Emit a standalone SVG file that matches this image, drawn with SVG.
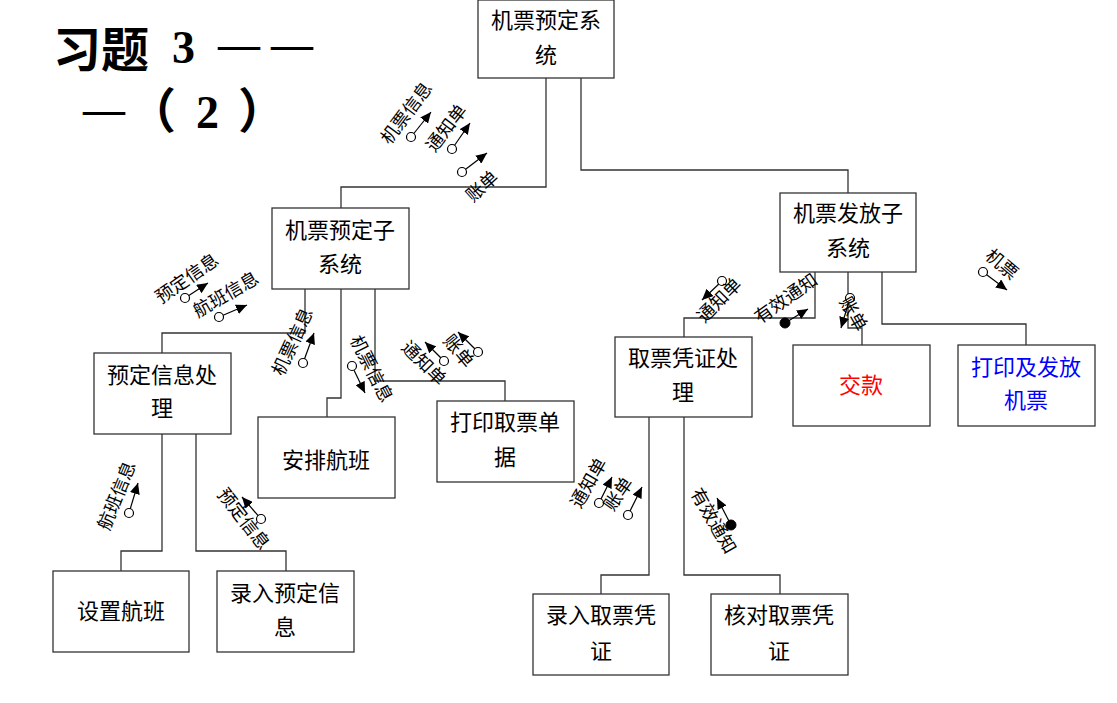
<svg xmlns="http://www.w3.org/2000/svg" width="1117" height="703" viewBox="0 0 1117 703">
<defs>
<marker id="ah" markerUnits="userSpaceOnUse" markerWidth="12" markerHeight="10" refX="11" refY="5" orient="auto">
<path d="M0,0 L11,5 L0,10 z" fill="#000"/>
</marker>
</defs>
<style>
.box{fill:#fff;stroke:#333;stroke-width:1.3}
.nt{font-family:"Noto Sans CJK SC","Noto Sans",sans-serif;font-size:22px;text-anchor:middle;fill:#000}
.conn{fill:none;stroke:#333;stroke-width:1.3}
.lb{font-family:"Noto Sans CJK SC","Noto Sans",sans-serif;font-size:18px;text-anchor:middle;dominant-baseline:central;fill:#000}
.fl{stroke:#000;stroke-width:1.2;marker-end:url(#ah)}
.oc{fill:#fff;stroke:#000;stroke-width:1.2}
.fc{fill:#000;stroke:#000}
.tt{font-family:"Noto Sans CJK SC",sans-serif;font-size:48px;font-weight:bold;fill:#000}
.td{font-family:"Liberation Serif",serif;font-size:46px;font-weight:bold;fill:#000}
.dash{font-family:"Liberation Serif",serif;font-size:42px;font-weight:bold;fill:#000}
</style>
<rect width="1117" height="703" fill="#fff"/>
<g id="title">
<text class="tt" x="53" y="67">习题</text>
<text class="td" x="172" y="63">3</text>
<text class="dash" x="218" y="58">—</text>
<text class="dash" x="271" y="58">—</text>
<text class="dash" x="83" y="123">—</text>
<text class="tt" x="128" y="128" font-weight="normal">（</text>
<text class="td" x="196" y="128">2</text>
<text class="tt" x="238" y="128" font-weight="normal">）</text>
</g>
<g id="connectors">
<polyline class="conn" points="546,78 546,187 341,187 341,208"/>
<polyline class="conn" points="581,78 581,170 848,170 848,193"/>
<polyline class="conn" points="305,289 305,333 162,333 162,353"/>
<polyline class="conn" points="341,289 341,398 327,398 327,417"/>
<polyline class="conn" points="375,289 375,381 505,381 505,401"/>
<polyline class="conn" points="162,434 162,551 121,551 121,571"/>
<polyline class="conn" points="196,434 196,551 286,551 286,571"/>
<polyline class="conn" points="815,272 815,318 684,318 684,337"/>
<polyline class="conn" points="848,272 848,328 862,328 862,345"/>
<polyline class="conn" points="882,272 882,324 1026,324 1026,345"/>
<polyline class="conn" points="649,417 649,575 601,575 601,594"/>
<polyline class="conn" points="684,417 684,575 780,575 780,594"/>
</g>
<g id="n1"><rect class="box" x="478" y="0" width="136" height="78"/><text class="nt" x="546" y="28">机票预定系</text><text class="nt" x="546" y="63">统</text></g>
<g id="n2"><rect class="box" x="272" y="208" width="137" height="81"/><text class="nt" x="340" y="238">机票预定子</text><text class="nt" x="340" y="272">系统</text></g>
<g id="n3"><rect class="box" x="780" y="193" width="136" height="79"/><text class="nt" x="848" y="221">机票发放子</text><text class="nt" x="848" y="256">系统</text></g>
<g id="n4"><rect class="box" x="94" y="353" width="137" height="81"/><text class="nt" x="162" y="383">预定信息处</text><text class="nt" x="162" y="416">理</text></g>
<g id="n5"><rect class="box" x="258" y="417" width="137" height="81"/><text class="nt" x="326" y="468">安排航班</text></g>
<g id="n6"><rect class="box" x="437" y="401" width="137" height="81"/><text class="nt" x="505" y="430">打印取票单</text><text class="nt" x="505" y="465">据</text></g>
<g id="n7"><rect class="box" x="615" y="337" width="137" height="80"/><text class="nt" x="683" y="366">取票凭证处</text><text class="nt" x="683" y="400">理</text></g>
<g id="n8"><rect class="box" x="793" y="345" width="137" height="81"/><text class="nt" x="861" y="393" style="fill:#f00">交款</text></g>
<g id="n9"><rect class="box" x="958" y="345" width="137" height="81"/><text class="nt" x="1026" y="375" style="fill:#00f">打印及发放</text><text class="nt" x="1026" y="408" style="fill:#00f">机票</text></g>
<g id="n10"><rect class="box" x="53" y="571" width="136" height="81"/><text class="nt" x="121" y="619">设置航班</text></g>
<g id="n11"><rect class="box" x="217" y="571" width="137" height="81"/><text class="nt" x="285" y="601">录入预定信</text><text class="nt" x="285" y="635">息</text></g>
<g id="n12"><rect class="box" x="533" y="594" width="136" height="81"/><text class="nt" x="601" y="623">录入取票凭</text><text class="nt" x="601" y="659">证</text></g>
<g id="n13"><rect class="box" x="711" y="594" width="137" height="81"/><text class="nt" x="779" y="623">核对取票凭</text><text class="nt" x="779" y="659">证</text></g>
<g id="couples">
<line class="fl" x1="411" y1="137" x2="431" y2="112"/><circle class="oc" cx="411" cy="137" r="4.5"/>
<line class="fl" x1="452" y1="149" x2="470" y2="123"/><circle class="oc" cx="452" cy="149" r="4.5"/>
<line class="fl" x1="462" y1="172" x2="487" y2="153"/><circle class="oc" cx="462" cy="172" r="4.5"/>
<line class="fl" x1="185" y1="298" x2="208" y2="283"/><circle class="oc" cx="185" cy="298" r="4.5"/>
<line class="fl" x1="219" y1="317" x2="247" y2="305"/><circle class="oc" cx="219" cy="317" r="4.5"/>
<line class="fl" x1="303" y1="363" x2="314" y2="333"/><circle class="oc" cx="303" cy="363" r="4.5"/>
<line class="fl" x1="352" y1="366" x2="365" y2="393"/><circle class="oc" cx="352" cy="366" r="4.5"/>
<line class="fl" x1="444" y1="361" x2="425" y2="342"/><circle class="oc" cx="444" cy="361" r="4.5"/>
<line class="fl" x1="478" y1="352" x2="458" y2="332"/><circle class="oc" cx="478" cy="352" r="4.5"/>
<line class="fl" x1="722" y1="281" x2="702" y2="300"/><circle class="oc" cx="722" cy="281" r="4.5"/>
<line class="fl" x1="785" y1="323" x2="808" y2="309"/><circle class="fc" cx="785" cy="323" r="5"/>
<line class="fl" x1="850" y1="298" x2="841" y2="328"/><circle class="oc" cx="850" cy="298" r="4.5"/>
<line class="fl" x1="983" y1="272" x2="1007" y2="290"/><circle class="oc" cx="983" cy="272" r="4.5"/>
<line class="fl" x1="129" y1="513" x2="138" y2="483"/><circle class="oc" cx="129" cy="513" r="4.5"/>
<line class="fl" x1="261" y1="519" x2="242" y2="497"/><circle class="oc" cx="261" cy="519" r="4.5"/>
<line class="fl" x1="599" y1="503" x2="612" y2="477"/><circle class="oc" cx="599" cy="503" r="4.5"/>
<line class="fl" x1="628" y1="515" x2="642" y2="487"/><circle class="oc" cx="628" cy="515" r="4.5"/>
<line class="fl" x1="731" y1="525" x2="717" y2="498"/><circle class="fc" cx="731" cy="525" r="5"/>
</g>
<g id="labels">
<text class="lb" transform="translate(405,112) rotate(-53)">机票信息</text>
<text class="lb" transform="translate(445,127) rotate(-52)">通知单</text>
<text class="lb" transform="translate(481,185) rotate(-42)">账单</text>
<text class="lb" transform="translate(186,277) rotate(-35)">预定信息</text>
<text class="lb" transform="translate(225,293) rotate(-30)">航班信息</text>
<text class="lb" transform="translate(291,341) rotate(-65)">机票信息</text>
<text class="lb" transform="translate(373,368) rotate(63)">机票信息</text>
<text class="lb" transform="translate(425,362) rotate(45)">通知单</text>
<text class="lb" transform="translate(460,350) rotate(50)">账单</text>
<text class="lb" transform="translate(718,299) rotate(-45)">通知单</text>
<text class="lb" transform="translate(785,297) rotate(-35)">有效通知</text>
<text class="lb" transform="translate(855,313) rotate(60)">账单</text>
<text class="lb" transform="translate(1003,263) rotate(40)">机票</text>
<text class="lb" transform="translate(115,495) rotate(-68)">航班信息</text>
<text class="lb" transform="translate(245,518) rotate(52)">预定信息</text>
<text class="lb" transform="translate(587,482) rotate(-60)">通知单</text>
<text class="lb" transform="translate(617,493) rotate(-55)">账单</text>
<text class="lb" transform="translate(715,520) rotate(60)">有效通知</text>
</g>
</svg>
